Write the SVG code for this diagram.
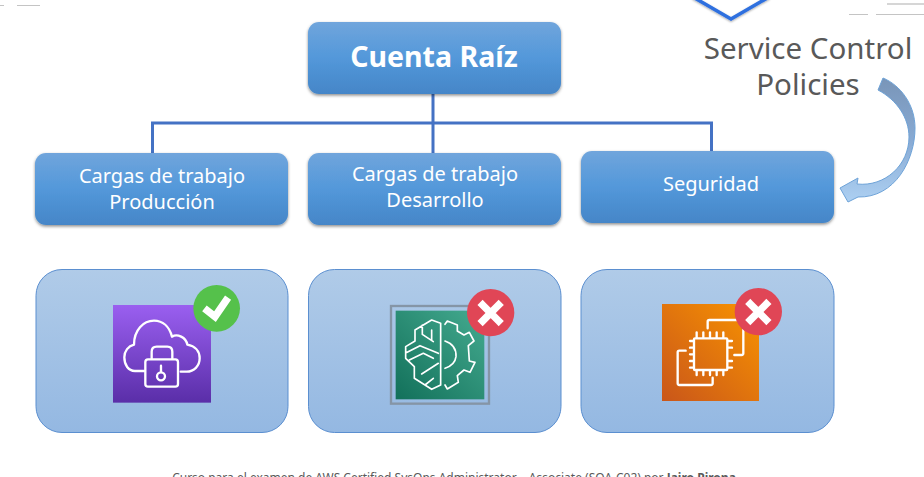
<svg xmlns="http://www.w3.org/2000/svg" width="924" height="477" viewBox="0 0 924 477">
<style>
text{font-family:"Noto Sans","Open Sans","Liberation Sans",sans-serif;text-anchor:middle}
.box{fill:url(#bg);filter:url(#sh)}
.panel{fill:url(#pg);stroke:#5b8fd0;stroke-width:1}
.lbl{fill:#fff;font-size:20px}
.scp{fill:#595959;font-size:29.500px}
.conn{fill:none;stroke:#4472c4;stroke-width:3}
.ic{fill:none;stroke:#fff;stroke-width:7;stroke-linejoin:round;stroke-linecap:round}
.mark{fill:none;stroke:#fff;stroke-linecap:square}
.rule{stroke:#c4c4c4;stroke-width:1}
</style>
<defs>
<linearGradient id="bg" x1="0" y1="0" x2="0" y2="1"><stop offset="0" stop-color="#70a5dc"/><stop offset=".5" stop-color="#5398da"/><stop offset="1" stop-color="#4586c8"/></linearGradient>
<linearGradient id="pg" x1="0" y1="0" x2="0" y2="1"><stop offset="0" stop-color="#b0cbe8"/><stop offset="1" stop-color="#94b8e2"/></linearGradient>
<linearGradient id="pu" x1="0" y1="0" x2="0" y2="1"><stop offset="0" stop-color="#9a5ff0"/><stop offset="1" stop-color="#5a2ea8"/></linearGradient>
<linearGradient id="te" x1="0" y1="1" x2="1" y2="0"><stop offset="0" stop-color="#12705a"/><stop offset="1" stop-color="#45ab90"/></linearGradient>
<linearGradient id="or" x1="0" y1="1" x2="1" y2="0"><stop offset="0" stop-color="#c9561a"/><stop offset="1" stop-color="#f99400"/></linearGradient>
<linearGradient id="ar" x1="0" y1="0" x2="0" y2="1"><stop offset="0" stop-color="#7995b8"/><stop offset=".5" stop-color="#88aad3"/><stop offset="1" stop-color="#add0f2"/></linearGradient>
<filter id="sh" x="-5%" y="-10%" width="110%" height="125%"><feDropShadow dx="0" dy="1.500" stdDeviation="1.500" flood-color="#000" flood-opacity=".45"/></filter>
<filter id="sd" x="-10%" y="-20%" width="120%" height="150%"><feDropShadow dx="0" dy="1" stdDeviation="1" flood-color="#000" flood-opacity=".35"/></filter>
</defs>
<rect width="924" height="477" fill="#fff"/>
<g id="rules">
<path class="rule" d="M0 5.500H4M17 5.500H40M849 14.500H868M876 14.500H924"/>
<path d="M887 4H924" stroke="#d6d6d6" stroke-width="2"/>
</g>
<g id="connectors">
<path class="conn" d="M433 93V153M152.500 153V123H711.500V151"/>
</g>
<g id="scp-shape"><path d="M693 -3L731 19L769 -3" fill="none" stroke="#2f6fdf" stroke-width="3.500" filter="url(#sd)"/></g>
<g id="root"><rect class="box" x="308" y="22" width="253" height="72" rx="11"/><text x="434" y="67" font-size="28.500" font-weight="700" fill="#fff">Cuenta Raíz</text></g>
<g id="prod"><rect class="box" x="35" y="153" width="253" height="72" rx="11"/><text class="lbl" x="162" y="183">Cargas de trabajo</text><text class="lbl" x="162" y="209">Producción</text></g>
<g id="dev"><rect class="box" x="308" y="153" width="253" height="72" rx="11"/><text class="lbl" x="435" y="181">Cargas de trabajo</text><text class="lbl" x="435" y="207">Desarrollo</text></g>
<g id="sec"><rect class="box" x="581" y="151" width="253" height="72" rx="11"/><text class="lbl" x="711" y="191">Seguridad</text></g>
<g id="scp-label"><text class="scp" x="808" y="59">Service Control</text><text class="scp" x="808" y="95">Policies</text></g>
<g id="scp-arrow"><path d="M883 78C900 85 915 104 915 128C915 160 895 198 858 197L848 202L840 188L858 178L857 184C885 187 909 165 909 137C909 118 897 100 878 90Z" fill="url(#ar)" stroke="#6ea3d8" stroke-width="1"/></g>
<g id="panel-prod"><rect class="panel" x="36" y="269.500" width="252" height="163" rx="26"/>
<g transform="translate(90 270) scale(.3333)"><rect x="69" y="105" width="294" height="293" fill="url(#pu)"/>
<path class="ic" d="M163 303H135C115 303 103 285 103 262C103 243 115 228 132 224C132 180 160 152 192 152C218 152 238 170 246 200C262 190 288 202 292 224C315 228 329 243 329 265C329 288 312 305 290 305H272"/>
<rect class="ic" x="166" y="268" width="98" height="82" rx="8"/>
<path class="ic" d="M185 266V245Q185 230 200 230H232Q247 230 247 245V266"/>
<circle class="ic" cx="213" cy="319" r="12"/><path class="ic" d="M213 287V306"/>
<circle cx="380" cy="115" r="70" fill="#55c14b"/>
<path class="mark" stroke-width="22" d="M352 122L375 140L408 92"/></g></g>
<g id="panel-dev"><rect class="panel" x="308.500" y="269.500" width="252.500" height="163" rx="26"/>
<g transform="translate(370 275) scale(.3333)"><rect x="63" y="93" width="294" height="293" fill="none" stroke="#8595a6" stroke-width="7"/>
<rect x="77" y="107" width="266" height="266" fill="url(#te)"/>
<path fill="none" stroke="#fff" stroke-width="5" stroke-linejoin="round" stroke-linecap="round" d="M212 145L185 135L135 165V198L107 215V250L133 275V310L185 343L212 330ZM157 150V178L190 200M185 165V195M107 234L150 212L205 235M118 255L160 235L190 250M155 297L205 265M165 330L190 310M225 198Q260 210 258 245Q255 270 225 280M225 148L232 138L262 150L262 168L282 180L298 172L312 198L295 212L298 258L315 262L300 292L282 285L262 302L265 322L232 342L225 330"/>
<circle cx="362" cy="113" r="71" fill="#e04656"/>
<path class="mark" stroke-width="22" d="M338 90L386 138M386 90L338 138"/></g></g>
<g id="panel-sec"><rect class="panel" x="581" y="269.500" width="253" height="163" rx="26"/>
<g transform="translate(640 275) scale(.3333)"><rect x="66" y="87" width="291" height="291" fill="url(#or)"/>
<path class="ic" d="M203 160V140Q203 135 208 135H305Q310 135 310 140V235Q310 240 305 240H283M137 227H118Q113 227 113 232V325Q113 330 118 330H213Q218 330 218 325V308"/>
<rect class="ic" x="162" y="190" width="100" height="95" rx="3"/>
<path class="ic" d="M170 172V188M190 172V188M210 172V188M230 172V188M250 172V188M170 287V300M190 287V300M210 287V300M230 287V300M250 287V300M150 198H160M150 218H160M150 238H160M150 258H160M150 278H160M264 198H276M264 218H276M264 258H276M264 278H276"/>
<circle cx="355" cy="110" r="71" fill="#e04656"/>
<path class="mark" stroke-width="22" d="M331 87L379 135M379 87L331 135"/></g></g>
<g id="footer"><text x="454" y="482" font-size="12" fill="#595959">Curso para el examen de AWS Certified SysOps Administrator – Associate (SOA-C02) por <tspan font-weight="700">Jairo Pirona</tspan></text></g>
</svg>
